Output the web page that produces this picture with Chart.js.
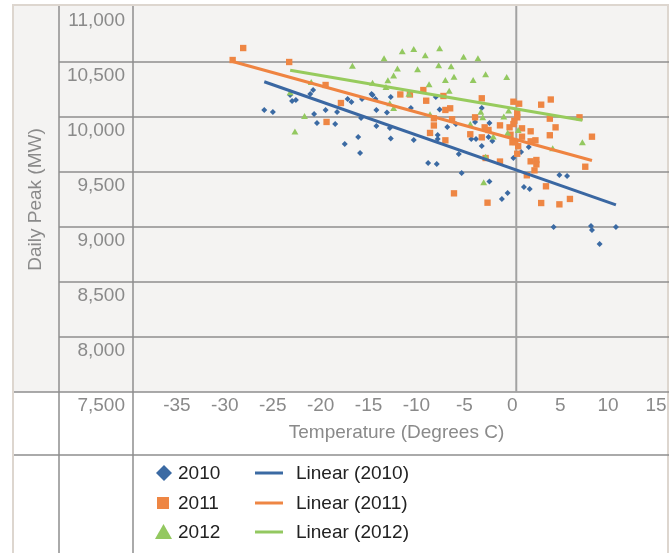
<!DOCTYPE html>
<html>
<head>
<meta charset="utf-8">
<script src="https://cdn.jsdelivr.net/npm/chart.js@4.4.1/dist/chart.umd.min.js"></script>
<style>
  html, body { margin: 0; padding: 0; background: #fff; }
  #wrap { width: 669px; height: 553px; position: relative; }
</style>
</head>
<body>
<div id="wrap"><canvas id="peakChart"></canvas></div>
<script>
// DATA (temperature in deg C, daily peak in MW)
const temps2010 = [-26.3, -25.4, -23.6, -23.4, -23.0, -21.5, -21.2, -21.1, -20.8, -19.9, -18.9, -18.7, -17.9, -17.6, -17.2, -16.5, -16.3, -16.2, -16.1, -15.1, -15.0, -14.7, -14.6, -14.6, -13.5, -13.1, -13.2, -13.1, -11.0, -10.7, -9.2, -8.3, -8.4, -8.0, -8.2, -8.2, -7.2, -6.3, -6.0, -5.7, -4.3, -3.6, -2.8, -4.7, -4.2, -3.6, -2.9, -2.5, -2.8, -0.3, 0.5, 1.3, -0.9, -1.5, 0.8, 1.4, 4.5, 5.3, 3.9, 7.8, 7.9, 10.4, 8.7];
const peaks2010 = [10064, 10045, 10200, 10145, 10155, 10209, 10245, 10027, 9945, 10064, 9936, 10045, 9755, 10164, 10136, 9818, 9673, 9991, 10164, 10209, 10200, 10164, 10064, 9918, 10041, 10182, 9900, 9805, 10082, 9791, 9582, 9573, 10182, 10068, 9836, 9800, 9909, 9936, 9664, 9491, 9955, 10082, 9945, 9800, 9800, 9736, 9818, 9782, 9414, 9627, 9682, 9727, 9309, 9255, 9364, 9345, 9473, 9464, 9000, 9009, 8973, 9000, 8845];

const temps2011 = [-28.5, -29.6, -23.7, -19.9, -18.3, -19.8, -12.1, -11.1, -9.7, -9.4, -7.6, -7.4, -6.9, -8.6, -6.7, -4.3, -8.6, -9.0, -7.4, -4.8, -3.3, -2.9, -1.7, -3.6, -3.6, -0.3, 0.3, 2.6, 3.6, 0.1, 0.1, -0.2, -0.3, -0.7, 0.6, 1.5, 3.5, 4.1, -0.6, 0.6, 3.5, 7.9, -0.4, -0.1, 0.2, 1.5, 2.0, 0.1, 1.5, 2.1, 2.1, 1.9, 1.1, 3.1, 2.6, 4.5, 5.6, 7.2, 6.6, -1.7, -3.2, -6.5, -3.0];
const peaks2011 = [10627, 10518, 10500, 10291, 10127, 9955, 10205, 10205, 10245, 10148, 10191, 10064, 10079, 9988, 9979, 9997, 9923, 9855, 9788, 9843, 9906, 9882, 9924, 9815, 10170, 10139, 10121, 10112, 10159, 10039, 9997, 9966, 9936, 9906, 9897, 9870, 9985, 9906, 9839, 9821, 9834, 9821, 9770, 9773, 9734, 9779, 9788, 9666, 9597, 9609, 9570, 9515, 9470, 9370, 9218, 9206, 9255, 9548, 9997, 9595, 9627, 9306, 9221];

const temps2012 = [-17.1, -21.4, -23.6, -22.1, -23.1, -15.0, -13.4, -13.6, -12.8, -12.4, -10.3, -11.9, -10.7, -8.0, -13.8, -9.5, -5.5, -4.0, -6.8, -8.1, -6.5, -3.2, -7.4, -4.5, -9.1, -7.0, -11.2, -12.8, -13.2, -9.0, -3.7, -3.5, -4.8, -2.4, -1.0, -0.8, -1.3, 0.2, -0.9, 3.8, 6.9, -3.4, -3.2];
const peaks2012 = [10457, 10309, 10215, 10000, 9859, 10302, 10325, 10264, 10368, 10432, 10425, 10588, 10609, 10615, 10525, 10552, 10539, 10525, 10452, 10461, 10357, 10379, 10327, 10327, 10288, 10230, 10203, 10073, 10115, 10015, 10039, 9988, 9927, 9814, 10355, 10050, 9995, 9873, 9848, 9706, 9761, 9397, 9630];

const xTicks = [-35, -30, -25, -20, -15, -10, -5, 0, 5, 10, 15];
const yTicks = [7500, 8000, 8500, 9000, 9500, 10000, 10500, 11000];
const seriesNames = ['2010', '2011', '2012'];

const BLUE = '#3b6aa3';
const ORANGE = '#ee8644';
const GREEN = '#93c860';
const GRAY_TEXT = '#8a8a8a';
const FONT = "'Liberation Sans', Arial, sans-serif";

function toPoints(xs, ys) {
  return xs.map((t, i) => ({ x: t, y: ys[i] }));
}

// least squares trend line, drawn from the smallest to the largest temperature
function trendLine(xs, ys) {
  const n = xs.length;
  const mx = xs.reduce((a, b) => a + b, 0) / n;
  const my = ys.reduce((a, b) => a + b, 0) / n;
  let sxy = 0, sxx = 0;
  for (let i = 0; i < n; i++) {
    sxy += (xs[i] - mx) * (ys[i] - my);
    sxx += (xs[i] - mx) * (xs[i] - mx);
  }
  const b = sxy / sxx;
  const a = my - b * mx;
  const lo = Math.min(...xs), hi = Math.max(...xs);
  return [{ x: lo, y: a + b * lo }, { x: hi, y: a + b * hi }];
}

function trendSet(name, xs, ys, color) {
  return {
    label: 'Linear (' + name + ')',
    data: trendLine(xs, ys),
    showLine: true,
    borderColor: color,
    backgroundColor: color,
    borderWidth: 3,
    pointRadius: 0,
    fill: false
  };
}

// TABLE FRAME BEHIND THE CHART
const tableFrame = {
  id: 'tableFrame',
  beforeDraw(chart) {
    const { ctx, width, height, scales: { x, y } } = chart;
    const base = y.getPixelForValue(yTicks[0]);
    ctx.save();
    ctx.fillStyle = '#ffffff';
    ctx.fillRect(0, 0, width, height);
    ctx.fillStyle = '#f4f3f2';
    ctx.fillRect(13, 5, width - 13, base - 5);

    ctx.strokeStyle = '#ddd6cf';
    ctx.lineWidth = 2;
    ctx.beginPath();
    ctx.moveTo(12, 5); ctx.lineTo(width, 5);
    ctx.moveTo(13, 5); ctx.lineTo(13, height);
    ctx.moveTo(width - 1, 5); ctx.lineTo(width - 1, height);
    ctx.stroke();

    ctx.strokeStyle = '#8e8e8e';
    ctx.lineWidth = 1.5;
    ctx.beginPath();
    yTicks.forEach(v => {
      if (v === yTicks[yTicks.length - 1]) return;
      const py = y.getPixelForValue(v);
      ctx.moveTo(v === yTicks[0] ? 14 : 59, py);
      ctx.lineTo(width, py);
    });
    ctx.moveTo(14, 455); ctx.lineTo(width, 455);
    ctx.moveTo(59, 6); ctx.lineTo(59, height);
    ctx.moveTo(x.left, 6); ctx.lineTo(x.left, height);
    ctx.stroke();

    const x0 = x.getPixelForValue(0);
    ctx.strokeStyle = '#a2a2a2';
    ctx.lineWidth = 2;
    ctx.beginPath();
    ctx.moveTo(x0, 6); ctx.lineTo(x0, base);
    ctx.stroke();
    ctx.restore();
  }
};

// LEGEND (two columns under the chart)
const tableLegend = {
  id: 'tableLegend',
  afterDraw(chart) {
    const { ctx } = chart;
    const rows = [473, 503, 532];
    const colors = [BLUE, ORANGE, GREEN];
    ctx.save();
    ctx.font = '19px ' + FONT;
    ctx.textBaseline = 'middle';
    ctx.fillStyle = '#222';
    rows.forEach((ry, i) => {
      ctx.fillStyle = colors[i];
      ctx.beginPath();
      if (i === 0) {
        ctx.moveTo(164, ry - 8); ctx.lineTo(172, ry); ctx.lineTo(164, ry + 8); ctx.lineTo(156, ry);
      } else if (i === 1) {
        ctx.rect(157, ry - 6, 12, 12);
      } else {
        ctx.moveTo(163.5, ry - 8); ctx.lineTo(172, ry + 7); ctx.lineTo(155, ry + 7);
      }
      ctx.closePath();
      ctx.fill();

      ctx.strokeStyle = colors[i];
      ctx.lineWidth = 3;
      ctx.beginPath();
      ctx.moveTo(255, ry); ctx.lineTo(283, ry);
      ctx.stroke();

      ctx.fillStyle = '#222';
      ctx.fillText(seriesNames[i], 178, ry + 1);
      ctx.fillText('Linear (' + seriesNames[i] + ')', 296, ry + 1);
    });
    ctx.restore();
  }
};

const ctx = document.getElementById('peakChart').getContext('2d');
const peakChart = new Chart(ctx, {
  type: 'scatter',
  data: {
    datasets: [
      trendSet('2010', temps2010, peaks2010, '#3a67a2'),
      trendSet('2011', temps2011, peaks2011, '#ef8441'),
      trendSet('2012', temps2012, peaks2012, '#97cb5d'),
      {
        label: '2012',
        data: toPoints(temps2012, peaks2012),
        pointStyle: 'triangle',
        pointRadius: 4,
        backgroundColor: GREEN,
        borderColor: GREEN,
        pointBorderWidth: 0
      },
      {
        label: '2011',
        data: toPoints(temps2011, peaks2011),
        pointStyle: 'rect',
        pointRadius: 4.5,
        backgroundColor: ORANGE,
        borderColor: ORANGE,
        pointBorderWidth: 0
      },
      {
        label: '2010',
        data: toPoints(temps2010, peaks2010),
        pointStyle: 'rectRot',
        pointRadius: 3,
        backgroundColor: BLUE,
        borderColor: BLUE,
        pointBorderWidth: 0
      }
    ]
  },
  options: {
    responsive: true,
    maintainAspectRatio: false,
    animation: false,
    layout: {
      padding: { left: 24, top: 7, right: 9, bottom: 109 }
    },
    plugins: {
      legend: { display: false },
      tooltip: { enabled: false }
    },
    scales: {
      x: {
        type: 'linear',
        min: -40,
        max: 15,
        afterBuildTicks: (scale) => {
          scale.ticks = xTicks.map(v => ({ value: v }));
        },
        afterFit: (scale) => {
          scale.height = 52;
          scale.paddingLeft = 0;
          scale.paddingRight = 0;
        },
        grid: { display: false, drawTicks: false },
        border: { display: false },
        ticks: {
          padding: 2,
          labelOffset: -4,
          color: GRAY_TEXT,
          font: { family: FONT, size: 19 },
          maxRotation: 0,
          autoSkip: false
        },
        title: {
          display: true,
          text: 'Temperature (Degrees C)',
          color: GRAY_TEXT,
          font: { family: FONT, size: 19 },
          padding: 0
        }
      },
      y: {
        type: 'linear',
        min: 7500,
        max: 11000,
        afterBuildTicks: (scale) => {
          scale.ticks = yTicks.map(v => ({ value: v }));
        },
        afterFit: (scale) => {
          scale.width = 109;
          scale.paddingTop = 0;
          scale.paddingBottom = 0;
        },
        grid: { display: false, drawTicks: false },
        border: { display: false },
        ticks: {
          padding: 8,
          labelOffset: 13.5,
          color: GRAY_TEXT,
          font: { family: FONT, size: 19 },
          callback: (v) => v.toLocaleString('en-US')
        },
        title: {
          display: true,
          text: 'Daily Peak (MW)',
          color: GRAY_TEXT,
          font: { family: FONT, size: 19 },
          padding: 0
        }
      }
    }
  },
  plugins: [tableFrame, tableLegend]
});
</script>
</body>
</html>
